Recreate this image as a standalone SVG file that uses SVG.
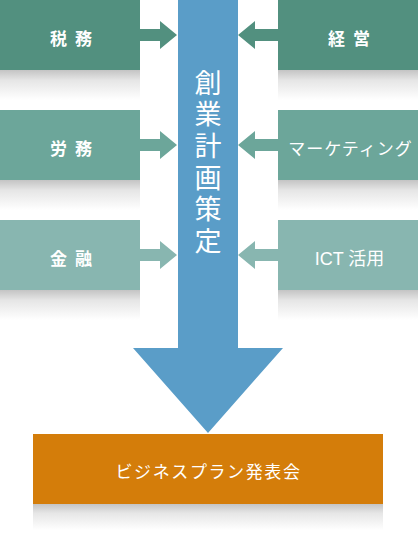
<svg xmlns="http://www.w3.org/2000/svg" width="418" height="534" viewBox="0 0 418 534">
<defs>
<linearGradient id="sh" x1="0" y1="0" x2="0" y2="1">
<stop offset="0" stop-color="#c4c4c4"/>
<stop offset="0.35" stop-color="#e6e6e6"/>
<stop offset="1" stop-color="#ffffff"/>
</linearGradient>
<style>
.lbl{font-family:"Noto Sans CJK JP","Noto Sans",sans-serif;font-size:17px;font-weight:bold;fill:#fff;text-anchor:middle}
.pair{letter-spacing:2px}
.c1{fill:#52907f}.c2{fill:#6ca69a}.c3{fill:#88b6b0}
.sh{fill:url(#sh)}
</style>
</defs>
<rect width="418" height="534" fill="#fff"/>
<g id="shadows">
<rect class="sh" x="0" y="70" width="140" height="30"/>
<rect class="sh" x="0" y="180" width="140" height="30"/>
<rect class="sh" x="0" y="290" width="140" height="30"/>
<rect class="sh" x="278" y="70" width="140" height="30"/>
<rect class="sh" x="278" y="180" width="140" height="30"/>
<rect class="sh" x="278" y="290" width="140" height="30"/>
<rect class="sh" x="33" y="504" width="350" height="26"/>
</g>
<g id="connectors">
<polygon class="c1" points="140,29 160,29 160,21 177,35 160,49 160,41 140,41"/>
<polygon class="c2" points="140,139 160,139 160,131 177,145 160,159 160,151 140,151"/>
<polygon class="c3" points="140,249 160,249 160,241 177,255 160,269 160,261 140,261"/>
<polygon class="c1" points="278,29 255,29 255,21 238,35 255,49 255,41 278,41"/>
<polygon class="c2" points="278,139 255,139 255,131 238,145 255,159 255,151 278,151"/>
<polygon class="c3" points="278,249 255,249 255,241 238,255 255,269 255,261 278,261"/>
</g>
<g id="n-zeimu"><rect class="c1" x="0" y="0" width="140" height="70"/><text class="lbl pair" x="72" y="45">税 務</text></g>
<g id="n-roumu"><rect class="c2" x="0" y="110" width="140" height="70"/><text class="lbl pair" x="72" y="155">労 務</text></g>
<g id="n-kinyu"><rect class="c3" x="0" y="220" width="140" height="70"/><text class="lbl pair" x="72" y="265">金 融</text></g>
<g id="n-keiei"><rect class="c1" x="278" y="0" width="140" height="70"/><text class="lbl pair" x="350" y="45">経 営</text></g>
<g id="n-marketing"><rect class="c2" x="278" y="110" width="140" height="70"/><text class="lbl" x="350.5" y="155" style="font-weight:normal;letter-spacing:1px">マーケティング</text></g>
<g id="n-ict"><rect class="c3" x="278" y="220" width="140" height="70"/><text class="lbl" x="349.5" y="265" style="font-weight:normal;font-size:18px;font-family:'Liberation Sans','Noto Sans CJK JP',sans-serif">ICT 活用</text></g>
<g id="n-plan">
<polygon fill="#5a9dc8" points="178,0 238,0 238,348 283,348 208,433 133,348 178,348"/>
<text class="lbl" style="font-size:27px;font-weight:normal;writing-mode:vertical-rl;letter-spacing:4.7px" x="208" y="164">創業計画策定</text>
</g>
<g id="n-present"><rect fill="#d47d0a" x="33" y="434" width="350" height="70"/><text class="lbl" x="208.5" y="478" style="font-size:17px;letter-spacing:1.6px;font-weight:normal">ビジネスプラン発表会</text></g>
</svg>
